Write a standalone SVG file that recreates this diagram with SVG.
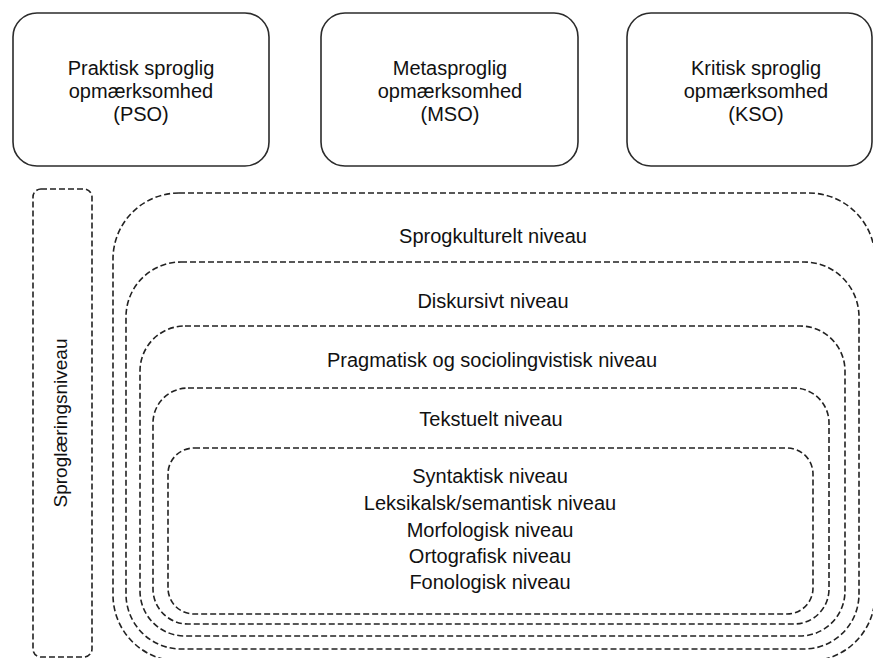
<svg xmlns="http://www.w3.org/2000/svg" width="873" height="658" viewBox="0 0 873 658">
<style>
  .solid { fill: #ffffff; stroke: #2b2b2b; stroke-width: 1.6; }
  .dash { fill: none; stroke: #222222; stroke-width: 1.6; stroke-dasharray: 6 3; }
  text { font-family: "Liberation Sans", Arial, sans-serif; font-size: 20px; fill: #111111; text-anchor: middle; }
</style>
<rect width="873" height="658" fill="#ffffff"/>
<g id="pso">
  <rect class="solid" x="13" y="13" width="256" height="153" rx="24"/>
  <text x="141" y="75">Praktisk sproglig</text>
  <text x="141" y="98">opmærksomhed</text>
  <text x="141" y="121">(PSO)</text>
</g>
<g id="mso">
  <rect class="solid" x="321" y="13" width="257" height="153" rx="24"/>
  <text x="450" y="75">Metasproglig</text>
  <text x="450" y="98">opmærksomhed</text>
  <text x="450" y="121">(MSO)</text>
</g>
<g id="kso">
  <rect class="solid" x="627" y="13" width="245" height="153" rx="24"/>
  <text x="756" y="75">Kritisk sproglig</text>
  <text x="756" y="98">opmærksomhed</text>
  <text x="756" y="121">(KSO)</text>
</g>
<g id="sproglaering">
  <rect class="dash" x="33" y="189" width="59" height="468" rx="8"/>
  <text transform="translate(67,423) rotate(-90)" style="font-size:19px">Sproglæringsniveau</text>
</g>
<g id="sprogkulturelt">
  <rect class="dash" x="113" y="193" width="762" height="468" rx="66"/>
  <text x="493" y="243">Sprogkulturelt niveau</text>
</g>
<g id="diskursivt">
  <rect class="dash" x="126" y="262" width="733" height="387" rx="55"/>
  <text x="493" y="308">Diskursivt niveau</text>
</g>
<g id="pragmatisk">
  <rect class="dash" x="140" y="326" width="705" height="310" rx="45"/>
  <text x="492" y="367">Pragmatisk og sociolingvistisk niveau</text>
</g>
<g id="tekstuelt">
  <rect class="dash" x="153" y="388" width="676" height="236" rx="35"/>
  <text x="491" y="426">Tekstuelt niveau</text>
</g>
<g id="sprogsystem">
  <rect class="dash" x="168" y="448" width="645" height="166" rx="26"/>
  <text x="490" y="483">Syntaktisk niveau</text>
  <text x="490" y="510">Leksikalsk/semantisk niveau</text>
  <text x="490" y="537">Morfologisk niveau</text>
  <text x="490" y="563">Ortografisk niveau</text>
  <text x="490" y="589">Fonologisk niveau</text>
</g>
<g id="connectors"></g>
</svg>
